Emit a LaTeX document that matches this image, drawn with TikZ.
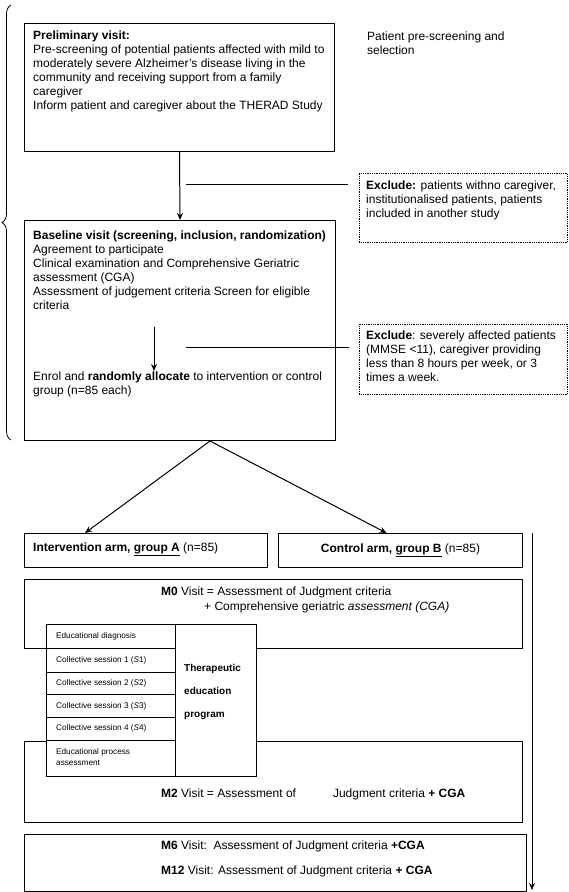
\documentclass[tikz,border=0pt]{standalone}
\usepackage{fontspec}
\setmainfont{Liberation Sans}
\usetikzlibrary{arrows.meta,decorations.pathreplacing}

\tikzset{
	frame/.style={draw, line width=1pt, inner sep=0pt, anchor=north west},
	excl/.style={draw, densely dotted, line width=0.8pt, inner sep=0pt, anchor=north west},
	txt/.style={inner sep=0pt, align=left, font=\fontsize{12}{14}\selectfont},
	small/.style={anchor=west, inner sep=0pt, align=left, font=\fontsize{8.2}{11}\selectfont},
	arr/.style={line width=1pt, -{Stealth[length=7pt,width=6pt]}},
}

\begin{document}
\begin{tikzpicture}[x=1pt, y=-1pt]
		%%%%% START %%%%%
		\useasboundingbox (0,0) rectangle (568,892);
		
		\draw[line width=0.8pt, decorate, decoration={brace, amplitude=9pt}] (11,440) -- (11,5);
		
		\node[frame, minimum width=310, minimum height=128] (prelim) at (24,23) {};
		\node[txt, anchor=north west] (prelimtxt) at (33,31) {\textbf{Preliminary visit:}\\Pre-screening of potential patients affected with mild to\\moderately severe Alzheimer’s disease living in the\\community and receiving support from a family\\caregiver\\Inform patient and caregiver about the THERAD Study};
		\node[txt, anchor=north west] (select) at (367,32) {Patient pre-screening and\\selection};
		
		\node[frame, minimum width=311, minimum height=220] (base) at (24,220) {};
		\node[txt, anchor=north west] (basetxt) at (33,231) {\textbf{Baseline visit (screening, inclusion, randomization)}\\Agreement to participate\\Clinical examination and Comprehensive Geriatric\\assessment (CGA)\\Assessment of judgement criteria Screen for eligible\\criteria};
		\node[txt, anchor=north west] (enrol) at (33,372) {Enrol and \textbf{randomly allocate} to intervention or control\\group (n=85 each)};
		
		\node[excl, minimum width=208, minimum height=69] (exone) at (359,173) {};
		\node[txt, anchor=north west] (exonetxt) at (366,181) {\textbf{Exclude:} patients withno caregiver,\\institutionalised patients, patients\\included in another study};
		\node[excl, minimum width=208, minimum height=70] (extwo) at (359,324) {};
		\node[txt, anchor=north west] (extwotxt) at (366,331) {\textbf{Exclude}: severely affected patients\\(MMSE <11), caregiver providing\\less than 8 hours per week, or 3\\times a week.};
		
		\draw[arr] (prelim.south) -- (base.north);
		\coordinate (hone) at (186,184);
		\coordinate (honeend) at (348,184);
		\draw[line width=1pt] (hone) -- (honeend);
		\coordinate (enrtop) at (154,327);
		\draw[arr] (enrtop) -- ([yshift=1pt]enrtop |- enrol.north);
		\coordinate (htwo) at (186,347);
		\coordinate (htwoend) at (349,347);
		\draw[line width=1pt] (htwo) -- (htwoend);
		
		\node[frame, minimum width=243, minimum height=34] (armA) at (24,533) {};
		\node[txt, anchor=west] (armAtxt) at (33,549) {\textbf{Intervention arm, \underline{group A}} (n=85)};
		\node[frame, minimum width=244, minimum height=34] (armB) at (278,533) {};
		\node[txt] (armBtxt) at (armB.center) {\textbf{Control arm, \underline{group B}} (n=85)};
		
		\coordinate (split) at ([xshift=30pt]base.south);
		\draw[arr] (split) -- ([xshift=-61pt]armA.north);
		\draw[arr] (split) -- ([xshift=-14pt]armB.north);
		
		\node[frame, minimum width=498, minimum height=69] (mzero) at (24,579) {};
		\node[txt, anchor=west] (mzeroa) at (161,592) {\textbf{M0} Visit = Assessment of Judgment criteria};
		\node[txt, anchor=west] (mzerob) at (204,607) {+ Comprehensive geriatric \textit{assessment (CGA)}};
		
		\node[frame, minimum width=498, minimum height=81] (mtwo) at (24,741) {};
		\node[txt, anchor=west] (mtwotxt) at (161,794) {\textbf{M2} Visit = Assessment of\hspace*{37pt}Judgment criteria \textbf{+ CGA}};
		
		\node[frame, minimum width=502, minimum height=57] (mlate) at (24,834) {};
		\node[txt, anchor=west] (msix) at (161,846) {\textbf{M6} Visit:\ \ Assessment of Judgment criteria \textbf{+CGA}};
		\node[txt, anchor=west] (mtwelve) at (161,871) {\textbf{M12} Visit: Assessment of Judgment criteria \textbf{+ CGA}};
		
		% education program table
		\node[frame, fill=white, minimum width=210, minimum height=152] (edu) at (46,624) {};
		\draw[line width=1pt] (175,624) -- (175,776);
		\draw[line width=1pt] (46,648) -- (175,648);
		\draw[line width=1pt] (46,672) -- (175,672);
		\draw[line width=1pt] (46,694) -- (175,694);
		\draw[line width=1pt] (46,717) -- (175,717);
		\draw[line width=1pt] (46,740) -- (175,740);
		\node[small] (ediag) at (56,636) {Educational diagnosis};
		\node[small] (sone) at (56,660) {Collective session 1 (\textit{S}1)};
		\node[small] (stwo) at (56,683) {Collective session 2 (\textit{S}2)};
		\node[small] (sthree) at (56,706) {Collective session 3 (\textit{S}3)};
		\node[small] (sfour) at (56,728) {Collective session 4 (\textit{S}4)};
		\node[small] (eproc) at (56,757) {Educational process\\assessment};
		\node[inner sep=0pt, anchor=north west, align=left, font=\bfseries\fontsize{10}{23}\selectfont] (tep) at (184,664) {Therapeutic\\education\\program};
		
		\coordinate (tline) at (532,533);
		\coordinate (tend) at (532,890);
		\draw[arr] (tline) -- (tend);
		
		%%%%% END %%%%%
\end{tikzpicture}
\end{document}
